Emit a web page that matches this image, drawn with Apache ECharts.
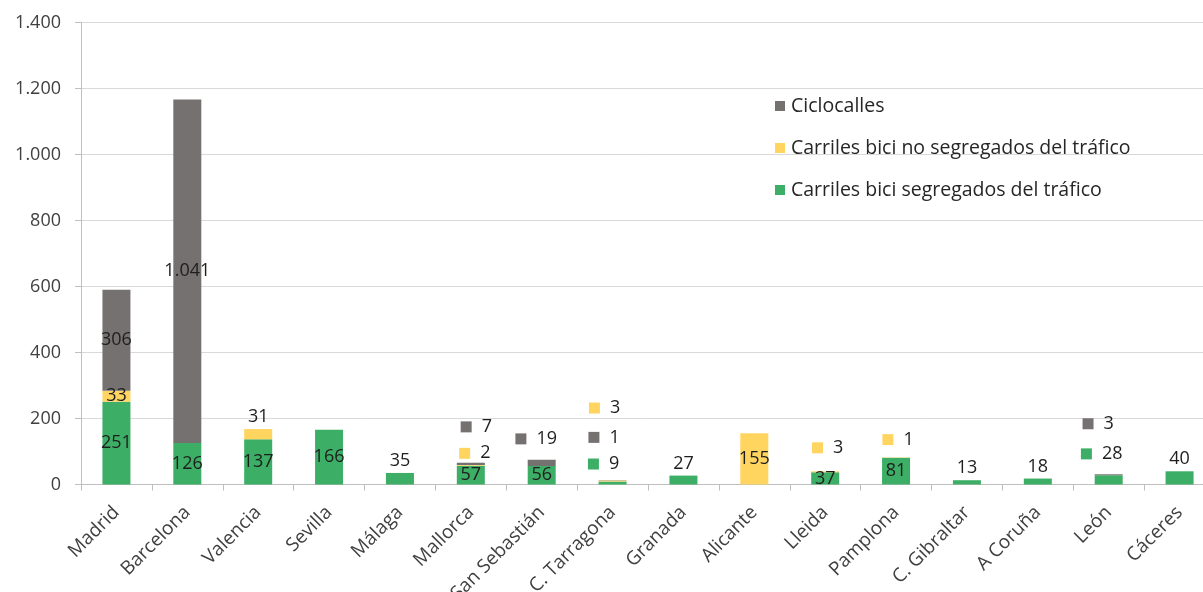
<!DOCTYPE html>
<html>
<head>
<meta charset="utf-8">
<title>Vías ciclistas por ciudad</title>
<script src="https://cdn.jsdelivr.net/npm/echarts@6/dist/echarts.min.js"></script>
<style>
  html, body { margin: 0; padding: 0; background: #ffffff; }
  #chart { width: 1203px; height: 592px; }
</style>
</head>
<body>
<div id="chart"></div>
<script>
// Kilómetros de vías ciclistas por ciudad, por tipo de vía
const categories = ['Madrid', 'Barcelona', 'Valencia', 'Sevilla', 'Málaga', 'Mallorca', 'San Sebastián',
  'C. Tarragona', 'Granada', 'Alicante', 'Lleida', 'Pamplona', 'C. Gibraltar', 'A Coruña', 'León', 'Cáceres'];

const segregados   = [251, 126, 137, 166, 35, 57, 56, 9, 27, 0, 37, 81, 13, 18, 28, 40];
const noSegregados = [33, 0, 31, 0, 0, 2, 0, 3, 0, 155, 3, 1, 0, 0, 0, 0];
const ciclocalles  = [306, 1041, 0, 0, 0, 7, 19, 1, 0, 0, 0, 0, 0, 0, 3, 0];

const yTicks = [0, 200, 400, 600, 800, 1000, 1200, 1400];

const seriesNames = {
  seg: 'Carriles bici segregados del tráfico',
  noSeg: 'Carriles bici no segregados del tráfico',
  cic: 'Ciclocalles'
};
const colors = { seg: '#3cae65', noSeg: '#ffd45f', cic: '#767171' };

// Label placement per bar: 'in' = centred in segment, 'top' = above the bar,
// ['key', dx, dy] = floating label with a colour key, shifted from the segment centre.
const placeSeg   = ['in', 'in', 'in', 'in', 'top', 'in', 'in', ['key', -9, -19], 'top', 'in', 'in', 'in', 'top', 'top', ['key', -7, -26], 'top'];
const placeNoSeg = ['in', 'in', 'top', 'in', 'in', ['key', 4, -12], 'in', ['key', -8, -73], 'in', 'in', ['key', 2.5, -24], ['key', 2, -18], 'in', 'in', 'in', 'in'];
const placeCic   = ['in', 'in', 'in', 'in', 'in', ['key', 5.5, -37], ['key', -5.5, -24], ['key', -8.5, -43], 'in', 'in', 'in', 'in', 'in', 'in', ['key', -10.5, -51], 'in'];

function fmtNum(v) {
  return String(v).replace(/\B(?=(\d{3})+(?!\d))/g, '.');
}

const FONT = '"Open Sans", "Noto Sans", sans-serif';
const labelBase = { fontFamily: FONT, fontSize: 18, color: '#1e1e1e' };

function buildData(values, places, color) {
  return values.map(function (v, i) {
    const p = places[i];
    if (!v) return { value: v, label: { show: false } };
    if (p === 'top') {
      return { value: v, label: Object.assign({ show: true, position: 'top', distance: 3, formatter: fmtNum(v) }, labelBase) };
    }
    if (Array.isArray(p)) {
      return {
        value: v,
        label: Object.assign({
          show: true,
          position: 'inside',
          offset: [p[1], p[2]],
          formatter: '{k|}{v|' + fmtNum(v) + '}',
          rich: {
            k: { width: 11, height: 11, backgroundColor: color },
            v: Object.assign({ padding: [0, 0, 0, 10] }, labelBase)
          }
        }, labelBase)
      };
    }
    return { value: v, label: Object.assign({ show: true, position: 'inside', formatter: fmtNum(v) }, labelBase) };
  });
}

function barSeries(key, values, places) {
  return {
    name: seriesNames[key],
    type: 'bar',
    stack: 'total',
    barWidth: 28,
    itemStyle: { color: colors[key] },
    data: buildData(values, places, colors[key])
  };
}

const chart = echarts.init(document.getElementById('chart'), null, { renderer: 'canvas' });

chart.setOption({
  animation: false,
  backgroundColor: '#ffffff',
  textStyle: { fontFamily: FONT },
  grid: { left: 81, top: 22.5, width: 1134, height: 462, containLabel: false, outerBoundsMode: 'none' },
  legend: {
    orient: 'vertical',
    left: 770,
    top: 91,
    itemWidth: 10,
    itemHeight: 10,
    itemGap: 22,
    icon: 'rect',
    data: [seriesNames.cic, seriesNames.noSeg, seriesNames.seg],
    textStyle: { fontFamily: FONT, fontSize: 19.5, lineHeight: 20, color: '#262626', padding: [0, 0, 0, 1] }
  },
  xAxis: {
    type: 'category',
    data: categories,
    boundaryGap: true,
    axisLine: { lineStyle: { color: '#bfbfbf', width: 1 } },
    axisTick: { show: true, length: 6, lineStyle: { color: '#bfbfbf' } },
    axisLabel: {
      interval: 0,
      rotate: 45,
      margin: 25,
      padding: [16, 0, 0, 0],
      fontFamily: FONT,
      fontSize: 19,
      color: '#404040'
    }
  },
  yAxis: {
    type: 'value',
    min: yTicks[0],
    max: yTicks[yTicks.length - 1],
    interval: yTicks[1] - yTicks[0],
    axisLine: { show: true, lineStyle: { color: '#bfbfbf' } },
    axisTick: { show: true, length: 6, lineStyle: { color: '#bfbfbf' } },
    splitLine: { show: true, lineStyle: { color: '#d9d9d9', width: 1 } },
    axisLabel: {
      margin: 20,
      fontFamily: FONT,
      fontSize: 18,
      color: '#404040',
      formatter: function (v) { return fmtNum(v); }
    }
  },
  series: [
    barSeries('seg', segregados, placeSeg),
    barSeries('noSeg', noSegregados, placeNoSeg),
    barSeries('cic', ciclocalles, placeCic)
  ]
});
</script>
</body>
</html>
